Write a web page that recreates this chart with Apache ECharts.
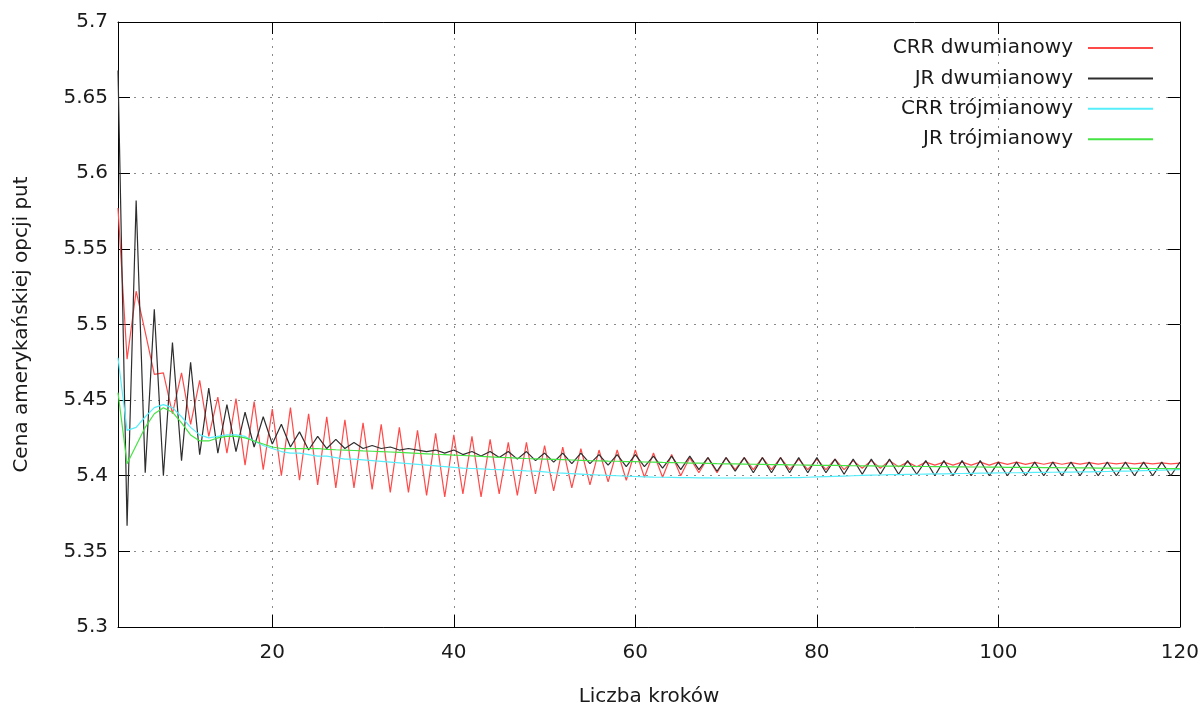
<!DOCTYPE html>
<html>
<head>
<meta charset="utf-8">
<title>Cena amerykańskiej opcji put</title>
<script src="https://cdn.jsdelivr.net/npm/echarts@6/dist/echarts.min.js"></script>
<style>
  html, body { margin: 0; padding: 0; background: #fff; }
  #chart { width: 1202px; height: 715px; }
</style>
</head>
<body>
<div id="chart"></div>
<script>
// Number of steps of the lattice (3 .. 120)
const firstStep = 3;
const lastStep = 120;

// Tick positions
const xTicks = [20, 40, 60, 80, 100, 120];
const yMin = 5.3, yMax = 5.7, yStep = 0.05;

// Series names
const seriesNames = ['CRR dwumianowy', 'JR dwumianowy', 'CRR trójmianowy', 'JR trójmianowy'];

// CRR binomial tree price, steps 3..120
const crrBin = [
  5.577, 5.477, 5.522, 5.495, 5.467, 5.468, 5.441, 5.468, 5.434, 5.463,
  5.426, 5.452, 5.415, 5.451, 5.407, 5.449, 5.404, 5.444, 5.400, 5.445,
  5.397, 5.441, 5.394, 5.439, 5.392, 5.437, 5.392, 5.435, 5.391, 5.434,
  5.389, 5.432, 5.389, 5.430, 5.387, 5.428, 5.386, 5.427, 5.388, 5.426,
  5.386, 5.424, 5.388, 5.422, 5.387, 5.422, 5.388, 5.420, 5.390, 5.419,
  5.392, 5.418, 5.394, 5.417, 5.396, 5.417, 5.397, 5.417, 5.399, 5.415,
  5.399, 5.414, 5.400, 5.412, 5.402, 5.412, 5.402, 5.412, 5.404, 5.412,
  5.404, 5.412, 5.404, 5.412, 5.404, 5.411, 5.404, 5.411, 5.404, 5.411,
  5.404, 5.410, 5.405, 5.410, 5.405, 5.410, 5.406, 5.409, 5.406, 5.409,
  5.407, 5.409, 5.407, 5.409, 5.407, 5.409, 5.407, 5.409, 5.4075, 5.409,
  5.4075, 5.4088, 5.4076, 5.4088, 5.4076, 5.4087, 5.4077, 5.4087, 5.4077, 5.4086,
  5.4078, 5.4086, 5.4078, 5.4085, 5.4078, 5.4085, 5.4079, 5.4084
];

// JR binomial tree price, steps 3..120
const jrBin = [
  5.668, 5.367, 5.582, 5.402, 5.510, 5.400, 5.488, 5.410, 5.475, 5.414,
  5.458, 5.415, 5.447, 5.416, 5.442, 5.419, 5.439, 5.421, 5.434, 5.419,
  5.429, 5.417, 5.426, 5.418, 5.424, 5.418, 5.422, 5.418, 5.420, 5.418,
  5.419, 5.417, 5.418, 5.417, 5.416, 5.417, 5.415, 5.417, 5.414, 5.416,
  5.413, 5.416, 5.412, 5.416, 5.411, 5.416, 5.410, 5.415, 5.409, 5.415,
  5.408, 5.415, 5.408, 5.414, 5.407, 5.414, 5.406, 5.414, 5.406, 5.413,
  5.405, 5.413, 5.404, 5.413, 5.404, 5.412, 5.403, 5.412, 5.403, 5.412,
  5.402, 5.412, 5.402, 5.412, 5.402, 5.412, 5.402, 5.412, 5.402, 5.411,
  5.401, 5.411, 5.401, 5.411, 5.401, 5.411, 5.401, 5.410, 5.401, 5.410,
  5.400, 5.410, 5.400, 5.410, 5.400, 5.410, 5.400, 5.409, 5.400, 5.409,
  5.400, 5.409, 5.400, 5.409, 5.400, 5.409, 5.400, 5.409, 5.400, 5.409,
  5.400, 5.409, 5.400, 5.409, 5.400, 5.409, 5.400, 5.409
];

// CRR trinomial tree price, steps 3..120
const crrTri = [
  5.478, 5.430, 5.432, 5.439, 5.445, 5.447, 5.445, 5.439, 5.432, 5.427,
  5.425, 5.426, 5.427, 5.427, 5.426, 5.423, 5.420, 5.418, 5.416, 5.415,
  5.415, 5.414, 5.413, 5.413, 5.412, 5.411, 5.411, 5.4105, 5.410, 5.4095,
  5.409, 5.4085, 5.408, 5.4075, 5.407, 5.4065, 5.406, 5.4055, 5.405, 5.4048,
  5.4045, 5.4042, 5.404, 5.4037, 5.4035, 5.4032, 5.403, 5.4025, 5.402, 5.4017,
  5.4014, 5.4011, 5.4008, 5.4005, 5.4002, 5.400, 5.3997, 5.3995, 5.3993, 5.3991,
  5.399, 5.3989, 5.3988, 5.3987, 5.3986, 5.3986, 5.3985, 5.3985, 5.3985, 5.3985,
  5.3985, 5.3985, 5.3985, 5.3986, 5.3987, 5.3988, 5.399, 5.3992, 5.3994, 5.3996,
  5.3998, 5.400, 5.4002, 5.4004, 5.4005, 5.4007, 5.4008, 5.4009, 5.401, 5.4011,
  5.4012, 5.4013, 5.4014, 5.4015, 5.4016, 5.4017, 5.4018, 5.4019, 5.402, 5.402,
  5.4021, 5.4022, 5.4022, 5.4023, 5.4024, 5.4024, 5.4025, 5.4026, 5.4027, 5.4028,
  5.403, 5.4031, 5.4032, 5.4034, 5.4035, 5.4037, 5.4038, 5.404
];

// JR trinomial tree price, steps 3..120
const jrTri = [
  5.455, 5.408, 5.420, 5.432, 5.441, 5.445, 5.442, 5.435, 5.427, 5.423,
  5.423, 5.425, 5.426, 5.426, 5.425, 5.423, 5.421, 5.419, 5.418, 5.418,
  5.418, 5.418, 5.418, 5.4175, 5.4172, 5.417, 5.4167, 5.4164, 5.4162, 5.416,
  5.4157, 5.4154, 5.4151, 5.4148, 5.4145, 5.4142, 5.414, 5.4137, 5.4134, 5.4131,
  5.4128, 5.4125, 5.4122, 5.412, 5.4117, 5.4114, 5.4112, 5.411, 5.4108, 5.4106,
  5.4104, 5.4102, 5.41, 5.4099, 5.4097, 5.4096, 5.4094, 5.4093, 5.4091, 5.409,
  5.4088, 5.4087, 5.4086, 5.4084, 5.4083, 5.4082, 5.408, 5.4079, 5.4078, 5.4077,
  5.4076, 5.4075, 5.4074, 5.4073, 5.4072, 5.4071, 5.407, 5.4069, 5.4068, 5.4068,
  5.4067, 5.4066, 5.4065, 5.4065, 5.4064, 5.4063, 5.4063, 5.4062, 5.4061, 5.4061,
  5.406, 5.406, 5.4059, 5.4059, 5.4058, 5.4058, 5.4057, 5.4057, 5.4056, 5.4056,
  5.4055, 5.4055, 5.4054, 5.4054, 5.4053, 5.4053, 5.4052, 5.4052, 5.4051, 5.4051,
  5.405, 5.405, 5.4049, 5.4049, 5.4048, 5.4048, 5.4047, 5.4047
];

const seriesValues = [crrBin, jrBin, crrTri, jrTri];
const seriesColors = ['#ff4a4a', '#2e2e2e', '#55eefa', '#44e444'];

const FONT = 'DejaVu Sans';
const TEXT_COLOR = '#1a1a1a';

function pairs(values) {
  return values.map((v, i) => [firstStep + i, v]);
}

const gridLine = { show: true, lineStyle: { color: '#8a8a8a', width: 1, type: [2, 6] } };
const frameLine = { show: true, onZero: false, lineStyle: { color: '#000', width: 1 } };

const option = {
  animation: false,
  backgroundColor: '#fff',
  grid: { left: 118, right: 22, top: 22, bottom: 88, containLabel: false },
  legend: seriesNames.map((name, i) => ({
    data: [name],
    orient: 'vertical',
    align: 'right',
    right: 49,
    top: 37 + i * 30.4,
    padding: 0,
    icon: 'rect',
    itemWidth: 65,
    itemHeight: 2,
    selectedMode: false,
    textStyle: {
      fontFamily: FONT, fontSize: 20, color: TEXT_COLOR,
      lineHeight: 22, padding: [0, 10, 0, 0]
    }
  })),
  xAxis: [
    {
      type: 'value', min: firstStep, max: lastStep, position: 'bottom',
      name: 'Liczba kroków', nameLocation: 'middle', nameGap: 60,
      nameTextStyle: { fontFamily: FONT, fontSize: 20, color: TEXT_COLOR },
      axisLine: frameLine,
      axisTick: { show: true, inside: true, length: 12, customValues: xTicks,
                  lineStyle: { color: '#000' } },
      axisLabel: { customValues: xTicks, margin: 16,
                   fontFamily: FONT, fontSize: 20, color: TEXT_COLOR },
      splitLine: gridLine
    },
    {
      type: 'value', min: firstStep, max: lastStep, position: 'top',
      axisLine: frameLine,
      axisTick: { show: true, inside: true, length: 12, customValues: xTicks,
                  lineStyle: { color: '#000' } },
      axisLabel: { show: false },
      splitLine: { show: false }
    }
  ],
  yAxis: [
    {
      type: 'value', min: yMin, max: yMax, interval: yStep, position: 'left',
      name: 'Cena amerykańskiej opcji put', nameLocation: 'middle', nameGap: 86,
      nameTextStyle: { fontFamily: FONT, fontSize: 20, color: TEXT_COLOR },
      axisLine: frameLine,
      axisTick: { show: true, inside: true, length: 12, lineStyle: { color: '#000' } },
      axisLabel: { margin: 10, fontFamily: FONT, fontSize: 20, color: TEXT_COLOR },
      splitLine: gridLine
    },
    {
      type: 'value', min: yMin, max: yMax, interval: yStep, position: 'right',
      axisLine: frameLine,
      axisTick: { show: true, inside: true, length: 12, lineStyle: { color: '#000' } },
      axisLabel: { show: false },
      splitLine: { show: false }
    }
  ],
  series: seriesNames.map((name, i) => ({
    name: name,
    type: 'line',
    xAxisIndex: 0,
    yAxisIndex: 0,
    data: pairs(seriesValues[i]),
    showSymbol: false,
    symbol: 'none',
    smooth: false,
    color: seriesColors[i],
    lineStyle: { color: seriesColors[i], width: 1.2 },
    emphasis: { disabled: true },
    clip: true
  }))
};

const chart = echarts.init(document.getElementById('chart'), null, { renderer: 'canvas' });
chart.setOption(option);
</script>
</body>
</html>
